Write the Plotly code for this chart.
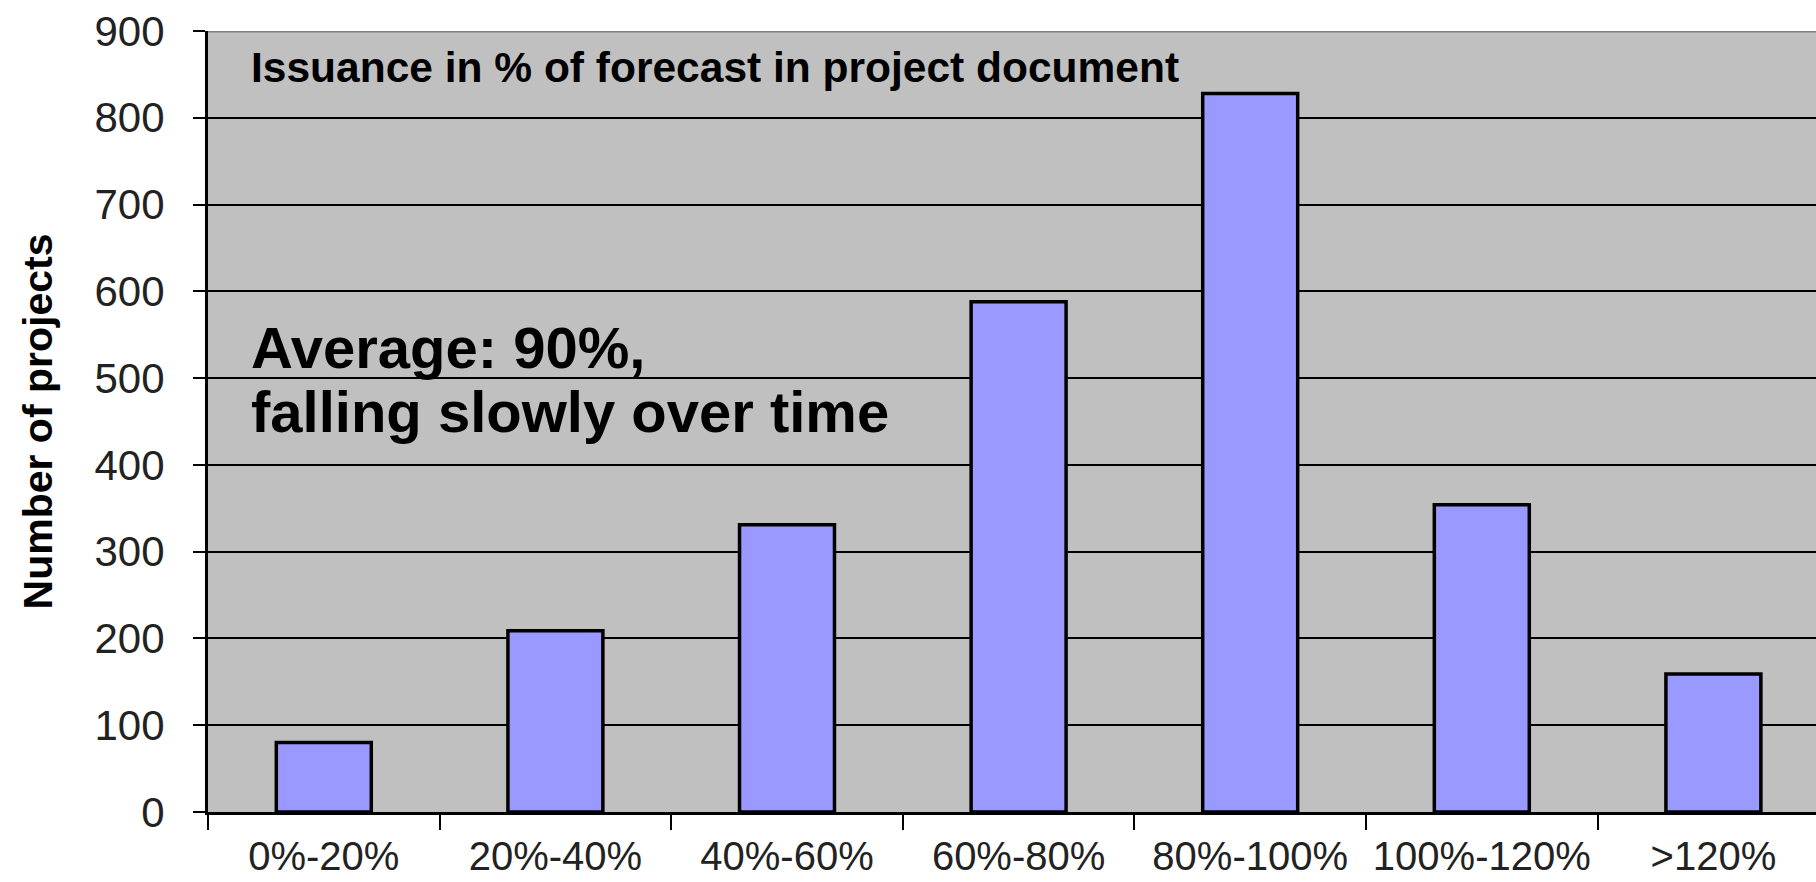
import plotly.graph_objects as go

# Distribution of projects by issuance in % of forecast
categories = ["0%-20%", "20%-40%", "40%-60%", "60%-80%", "80%-100%", "100%-120%", ">120%"]
projects = [80, 209, 331, 588, 828, 354, 159]
y_ticks = [0, 100, 200, 300, 400, 500, 600, 700, 800, 900]

FONT = "Liberation Sans, Arial, sans-serif"

fig = go.Figure()
fig.add_trace(go.Bar(
    x=categories,
    y=projects,
    width=0.41,
    marker=dict(color="#9999FF", line=dict(color="#000000", width=3.5)),
    hoverinfo="x+y",
))

fig.update_layout(
    width=1816,
    height=882,
    margin=dict(l=208, r=0, t=31, b=70),
    paper_bgcolor="#FFFFFF",
    plot_bgcolor="#C0C0C0",
    showlegend=False,
    font=dict(family=FONT, color="#000000"),
    bargap=0.59,
)

fig.update_xaxes(
    type="category",
    range=[-0.5, 6.443],
    tickson="boundaries",
    ticks="outside",
    ticklen=15,
    tickwidth=2,
    tickcolor="#000000",
    showline=True,
    linecolor="#000000",
    linewidth=3,
    showgrid=False,
    automargin=False,
    tickangle=0,
    tickfont=dict(family=FONT, size=40, color="#222222"),
    ticklabelstandoff=7,
)

fig.update_yaxes(
    range=[0, 900],
    tickvals=y_ticks,
    ticks="outside",
    ticklen=12,
    tickwidth=2,
    tickcolor="#000000",
    showline=True,
    linecolor="#000000",
    linewidth=3,
    showgrid=True,
    gridcolor="#000000",
    gridwidth=2,
    zeroline=False,
    automargin=False,
    tickfont=dict(family=FONT, size=42, color="#222222"),
    ticklabelstandoff=20,
    title=dict(text="<b>Number of projects</b>", font=dict(family=FONT, size=41), standoff=30),
)

# top edge of the plotting area drawn in grey
fig.add_shape(type="line", xref="paper", yref="y", x0=0, x1=1, y0=900, y1=900,
              line=dict(color="#7F7F7F", width=3), layer="above")

fig.add_annotation(
    text="<b>Issuance in % of forecast in project document</b>",
    xref="paper", yref="y", x=0.0255, y=858,
    xanchor="left", yanchor="middle", showarrow=False,
    font=dict(family=FONT, size=42.5, color="#000000"),
)
fig.add_annotation(
    text="<b>Average: 90%,</b>",
    xref="paper", yref="y", x=0.0255, y=535,
    xanchor="left", yanchor="middle", showarrow=False,
    font=dict(family=FONT, size=58, color="#000000"),
)
fig.add_annotation(
    text="<b>falling slowly over time</b>",
    xref="paper", yref="y", x=0.0255, y=461,
    xanchor="left", yanchor="middle", showarrow=False,
    font=dict(family=FONT, size=58, color="#000000"),
)

fig.write_html("out.html")
